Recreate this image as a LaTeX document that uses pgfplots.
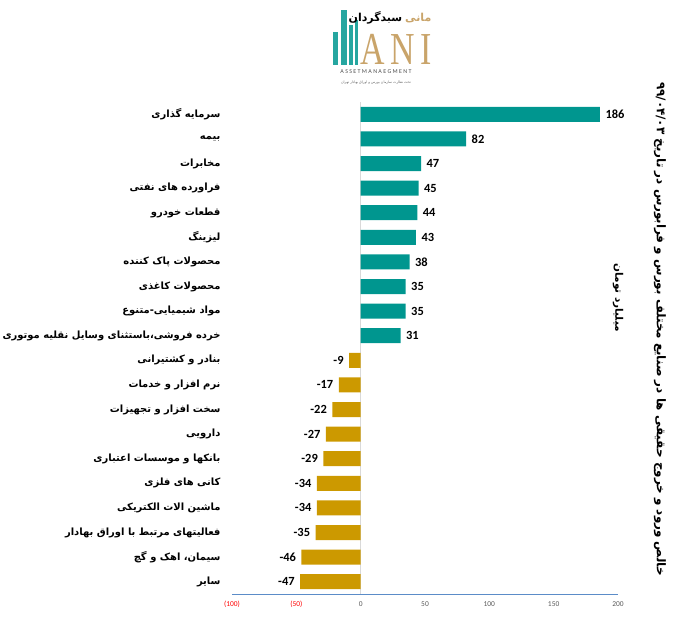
\documentclass[border=0pt]{standalone}
\usepackage{pgfplots}
\pgfplotsset{compat=1.18}
\usepackage{fontspec}
\setmainfont{Carlito}
\newfontfamily\arabicfont[Script=Arabic]{DejaVu Sans}
\newfontfamily\logofont{Liberation Serif}
\TeXXeTstate=1

\definecolor{tealbar}{RGB}{0,150,143}
\definecolor{goldbar}{RGB}{204,153,0}
\definecolor{logogold}{RGB}{201,164,106}
\definecolor{axisblue}{RGB}{91,140,200}
\definecolor{ticklab}{RGB}{89,89,89}

% y = row from the top, x = net flow (billion toman), mag = |x| for the label
\pgfplotstableread{
y x mag
0 186 186
1 82 82
2 47 47
3 45 45
4 44 44
5 43 43
6 38 38
7 35 35
8 35 35
9 31 31
}\pos
\pgfplotstableread{
y x mag
10 -9 9
11 -17 17
12 -22 22
13 -27 27
14 -29 29
15 -34 34
16 -34 34
17 -35 35
18 -46 46
19 -47 47
}\negs

\begin{document}
\begin{tikzpicture}
\useasboundingbox (0,0) rectangle (686bp,627bp);

% logo
\fill[tealbar!85] (333bp,562bp) rectangle (338bp,595bp);
\fill[tealbar!85] (341bp,562bp) rectangle (347bp,617bp);
\fill[tealbar!85] (349bp,562bp) rectangle (353bp,602bp);
\fill[tealbar!85] (355bp,562bp) rectangle (358bp,607bp);
\node[font=\logofont\fontsize{34}{34}\selectfont, text=logogold, inner sep=0pt, text depth=0pt, yscale=1.35, anchor=base] at (396bp,562bp) {A\,N\,I};
\node[font=\fontsize{6}{7}\selectfont, text=black!70, inner sep=0pt] at (376bp,555bp) {A S S E T M A N A E G M E N T};
\node[font=\arabicfont\bfseries\fontsize{11}{12}\selectfont, inner sep=0pt] at (390bp,609bp)
  {\hbox{\beginR سبدگردان\endR}\hspace{3bp}\hbox{\color{logogold}\beginR مانی\endR}};
\node[font=\arabicfont\fontsize{3.5}{4}\selectfont, text=black!60, inner sep=0pt] at (376bp,544bp)
  {\beginR تحت نظارت سازمان بورس و اوراق بهادار تهران\endR};

\begin{axis}[
  at={(232bp,33bp)}, anchor=south west,
  scale only axis, width=386bp, height=492bp,
  xbar, bar width=15bp,
  xmin=-100, xmax=200, ymin=-0.5, ymax=19.5, y dir=reverse,
  axis x line*=bottom, axis y line*=left,
  x axis line style={draw=axisblue, -},
  y axis line style={draw=none},
  major tick length=0pt,
  xtick={-100,-50,0,50,100,150,200},
  xticklabels={\textcolor{red}{(100)},\textcolor{red}{(50)},0,50,100,150,200},
  xticklabel style={font=\fontsize{7.5}{9}\selectfont, text=ticklab, yshift=-4bp},
  extra x ticks={0}, extra x tick labels={},
  extra x tick style={grid=major, major grid style={draw=black!15}},
  ytick={0,...,19},
  yticklabels={
    {\beginR سرمایه گذاری\endR},
    {\beginR بیمه\endR},
    {\beginR مخابرات\endR},
    {\beginR فراورده های نفتی\endR},
    {\beginR قطعات خودرو\endR},
    {\beginR لیزینگ\endR},
    {\beginR محصولات پاک کننده\endR},
    {\beginR محصولات کاغذی\endR},
    {\beginR مواد شیمیایی-متنوع\endR},
    {\beginR خرده فروشی،باستثنای وسایل نقلیه موتوری\endR},
    {\beginR بنادر و کشتیرانی\endR},
    {\beginR نرم افزار و خدمات\endR},
    {\beginR سخت افزار و تجهیزات\endR},
    {\beginR دارویی\endR},
    {\beginR بانکها و موسسات اعتباری\endR},
    {\beginR کانی های فلزی\endR},
    {\beginR ماشین الات الکتریکی\endR},
    {\beginR فعالیتهای مرتبط با اوراق بهادار\endR},
    {\beginR سیمان، اهک و گچ\endR},
    {\beginR سایر\endR}},
  yticklabel style={font=\arabicfont\bfseries\fontsize{10}{12}\selectfont, anchor=east, xshift=-8bp},
  point meta=explicit symbolic,
  clip=false,
]
\addplot[fill=tealbar, draw=none, bar shift=0pt,
  nodes near coords={\hbox{\pgfplotspointmeta}},
  nodes near coords style={anchor=west, xshift=2bp, font=\bfseries\fontsize{12.5}{14}\selectfont, text=black}]
  table[x=x, y=y, meta=mag] {\pos};
\addplot[fill=goldbar, draw=none, bar shift=0pt,
  nodes near coords={\hbox{-}\hbox{\pgfplotspointmeta}},
  nodes near coords style={anchor=east, xshift=-2bp, font=\bfseries\fontsize{12.5}{14}\selectfont, text=black}]
  table[x=x, y=y, meta=mag] {\negs};
\end{axis}

% title and unit
\node[rotate=-90, font=\arabicfont\bfseries\fontsize{12}{14}\selectfont] at (660bp,298bp)
  {\beginR خالص ورود و خروج حقیقی ها در صنایع مختلف بورس و فرابورس در تاریخ \beginL ۹۹/۰۴/۰۳\endL\endR};
\node[rotate=-90, font=\arabicfont\bfseries\fontsize{10.5}{12}\selectfont] at (618bp,329bp)
  {\beginR میلیارد تومان\endR};
\end{tikzpicture}
\end{document}
